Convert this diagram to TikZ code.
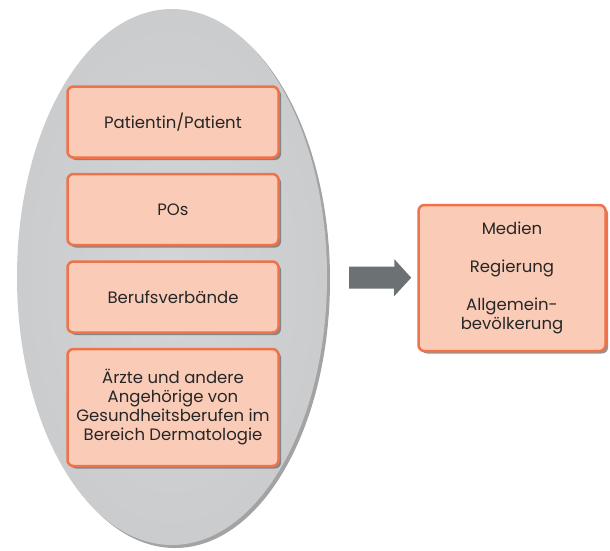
\documentclass[tikz,border=0pt]{standalone}
\usepackage{fontspec}
\setmainfont{Poppins}
\usetikzlibrary{arrows.meta,positioning,shapes.geometric,shadows}
\definecolor{peach}{RGB}{250,204,184}
\definecolor{rust}{RGB}{238,114,74}
\definecolor{ovalin}{RGB}{200,202,204}
\definecolor{ovalout}{RGB}{104,106,108}
\definecolor{slate}{RGB}{108,113,116}
\pgfdeclareradialshading{ovalshade}{\pgfpoint{0bp}{0bp}}{color(0bp)=(ovalin!80!white); color(30bp)=(ovalin); color(42bp)=(ovalin!92!black); color(47bp)=(ovalin!75!black); color(50bp)=(ovalout)}
\tikzset{
  grp/.style={ellipse, minimum width=310pt, minimum height=536pt, shading=ovalshade, drop shadow={shadow xshift=3pt, shadow yshift=-3pt, fill=black!60, opacity=.6}},
  box/.style={draw=rust, line width=2.5pt, rounded corners=6pt, fill=peach, align=center, minimum width=211pt, minimum height=71pt, font=\fontsize{16.5}{19}\selectfont, text=black!85, drop shadow={shadow xshift=2.5pt, shadow yshift=-2.5pt, fill=black!60, opacity=.7}},
  bigarr/.style={draw=slate, line width=22pt, -{Triangle[length=17pt,width=36pt]}}
}
\begin{document}
\begin{tikzpicture}[x=1pt, y=-1pt, node distance=14pt]
\useasboundingbox (0,0) rectangle (610,550);
\node[grp] (oval) at (172,277) {};
\node[box] (pat) at (173,122) {Patientin/Patient};
\node[box, below=of pat] (pos) {POs};
\node[box, below=of pos] (verb) {Berufsverbände};
\node[box, below=of verb, minimum height=117pt] (aerzte) {Ärzte und andere\\Angehörige von\\Gesundheitsberufen im\\Bereich Dermatologie};
\node[box, minimum width=187pt, minimum height=146pt] (media) at (512,278) {Medien\\[19pt]Regierung\\[19pt]Allgemein-\\bevölkerung};
\draw[bigarr, shorten <=22pt, shorten >=6pt] (oval) -- (media);
\end{tikzpicture}
\end{document}
